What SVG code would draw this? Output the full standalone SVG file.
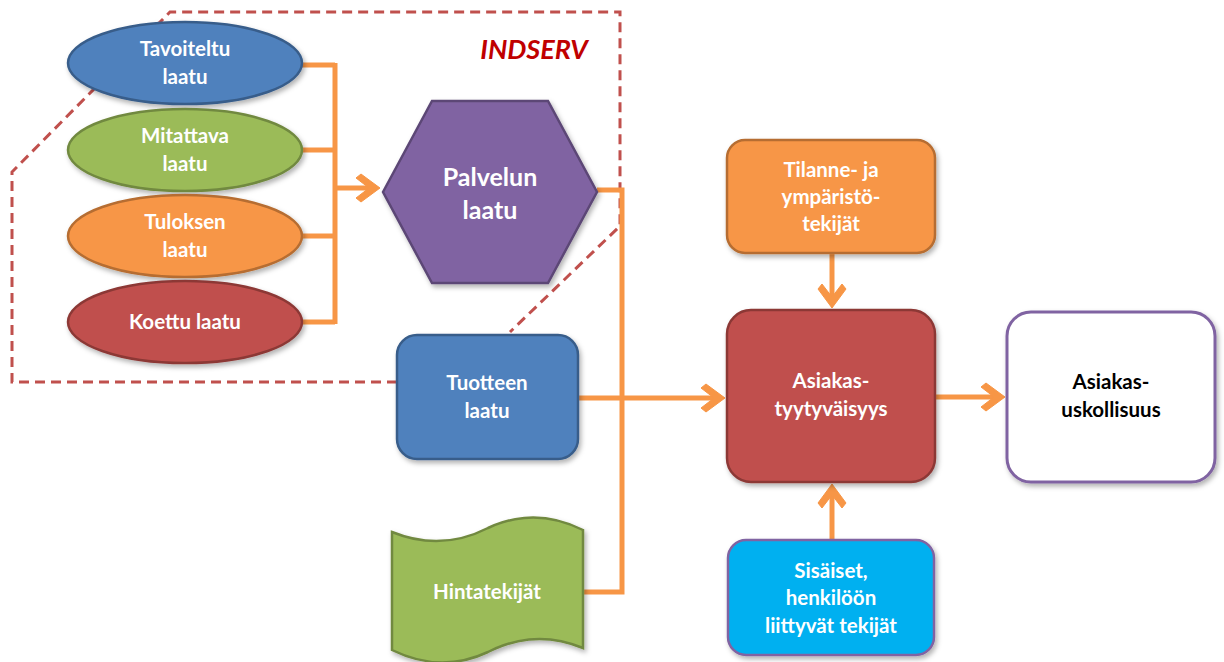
<svg xmlns="http://www.w3.org/2000/svg" width="1224" height="662" viewBox="0 0 1224 662">
  <defs>
    <filter id="shadow" x="-10%" y="-10%" width="130%" height="130%">
      <feDropShadow dx="2" dy="3" stdDeviation="2.5" flood-color="#000" flood-opacity="0.3"/>
    </filter>
    <!-- barbed arrowhead; tip sits 8px past the end of the line -->
    <marker id="barb" viewBox="-28 -16 30 32" markerWidth="30" markerHeight="32" refX="-8" refY="0" orient="auto" markerUnits="userSpaceOnUse">
      <path d="M0,0 L-19,-14 L-24,-10 L-11,0 L-24,10 L-19,14 Z" fill="#F79646" stroke="#F79646" stroke-width="1" stroke-linejoin="miter"/>
    </marker>
    <style>
      .lbl { font-family: Lato, "Open Sans", "Liberation Sans", sans-serif; font-weight: 700; font-size: 20.5px; fill: #fff; text-anchor: middle; }
      .big { font-size: 25px; }
      .dark { fill: #000; }
      .conn { fill: none; stroke: #F79646; stroke-width: 5; }
      .blue { fill: #4F81BD; stroke: #385D8A; stroke-width: 2.5; filter: url(#shadow); }
      .green { fill: #9BBB59; stroke: #71893F; stroke-width: 2.5; filter: url(#shadow); }
      .orange { fill: #F79646; stroke: #B66D31; stroke-width: 2.5; filter: url(#shadow); }
      .red { fill: #C0504D; stroke: #8C3836; stroke-width: 2.5; filter: url(#shadow); }
      .purple { fill: #8064A2; stroke: #5C4776; stroke-width: 2.5; filter: url(#shadow); }
      .cyan { fill: #00B0F0; stroke: #8064A2; stroke-width: 2.5; filter: url(#shadow); }
      .white { fill: #fff; stroke: #8064A2; stroke-width: 3; filter: url(#shadow); }
      .boundary { fill: none; stroke: #C0504D; stroke-width: 3; stroke-dasharray: 10 6; }
    </style>
  </defs>

  <rect width="1224" height="662" fill="#fff"/>

  <!-- INDSERV boundary -->
  <g id="indserv">
    <path class="boundary" d="M397,382 L12,382 L12,172 L170,12 L620,12 L620,226 L510,332"/>
    <text x="534" y="59" font-family="Lato, 'Open Sans', 'Liberation Sans', sans-serif" font-weight="700" font-style="italic" font-size="27" fill="#C00000" text-anchor="middle">INDSERV</text>
  </g>

  <!-- connectors -->
  <g id="connectors">
    <path class="conn" d="M302,65 H335 M302,150 H335 M302,236 H335 M302,322 H335 M335,63 V324"/>
    <path class="conn" d="M335,188 H372" marker-end="url(#barb)"/>
    <path class="conn" d="M597,190 H622 V592 H583"/>
    <path class="conn" d="M578,398 H717" marker-end="url(#barb)"/>
    <path class="conn" d="M832,253 V300" marker-end="url(#barb)"/>
    <path class="conn" d="M832,540 V492" marker-end="url(#barb)"/>
    <path class="conn" d="M935,397 H997" marker-end="url(#barb)"/>
  </g>

  <g id="tavoiteltu">
    <ellipse class="blue" cx="185" cy="63" rx="117" ry="41"/>
    <text class="lbl" x="185" y="56">Tavoiteltu</text>
    <text class="lbl" x="185" y="84">laatu</text>
  </g>
  <g id="mitattava">
    <ellipse class="green" cx="185" cy="150" rx="117" ry="41"/>
    <text class="lbl" x="185" y="143">Mitattava</text>
    <text class="lbl" x="185" y="171">laatu</text>
  </g>
  <g id="tuloksen">
    <ellipse class="orange" cx="185" cy="236" rx="117" ry="41"/>
    <text class="lbl" x="185" y="229">Tuloksen</text>
    <text class="lbl" x="185" y="257">laatu</text>
  </g>
  <g id="koettu">
    <ellipse class="red" cx="185" cy="322" rx="117" ry="41"/>
    <text class="lbl" x="185" y="329">Koettu laatu</text>
  </g>

  <g id="palvelun">
    <polygon class="purple" points="383,192 432,101 548,101 597,192 548,283 432,283"/>
    <text class="lbl big" x="490" y="186">Palvelun</text>
    <text class="lbl big" x="490" y="219">laatu</text>
  </g>

  <g id="tuotteen">
    <rect class="blue" x="397" y="335" width="181" height="124" rx="20"/>
    <text class="lbl" x="487" y="390">Tuotteen</text>
    <text class="lbl" x="487" y="418">laatu</text>
  </g>

  <g id="hintatekijat">
    <path class="green" d="M392,532 Q441,552 488,528 Q535,506 583,530 L583,648 Q535,628 488,652 Q441,674 392,650 Z"/>
    <text class="lbl" x="487" y="599">Hintatekijät</text>
  </g>

  <g id="tilanne">
    <rect class="orange" x="727" y="140" width="208" height="113" rx="18"/>
    <text class="lbl" x="831" y="177">Tilanne- ja</text>
    <text class="lbl" x="831" y="204">ympäristö-</text>
    <text class="lbl" x="831" y="231">tekijät</text>
  </g>

  <g id="tyytyvaisyys">
    <rect class="red" x="727" y="310" width="208" height="172" rx="24"/>
    <text class="lbl" x="831" y="388">Asiakas-</text>
    <text class="lbl" x="831" y="416">tyytyväisyys</text>
  </g>

  <g id="sisaiset">
    <rect class="cyan" x="728" y="540" width="206" height="115" rx="18"/>
    <text class="lbl" x="831" y="578">Sisäiset,</text>
    <text class="lbl" x="831" y="605">henkilöön</text>
    <text class="lbl" x="831" y="633">liittyvät tekijät</text>
  </g>

  <g id="uskollisuus">
    <rect class="white" x="1007" y="312" width="208" height="170" rx="24"/>
    <text class="lbl dark" x="1111" y="389">Asiakas-</text>
    <text class="lbl dark" x="1111" y="417">uskollisuus</text>
  </g>
</svg>
